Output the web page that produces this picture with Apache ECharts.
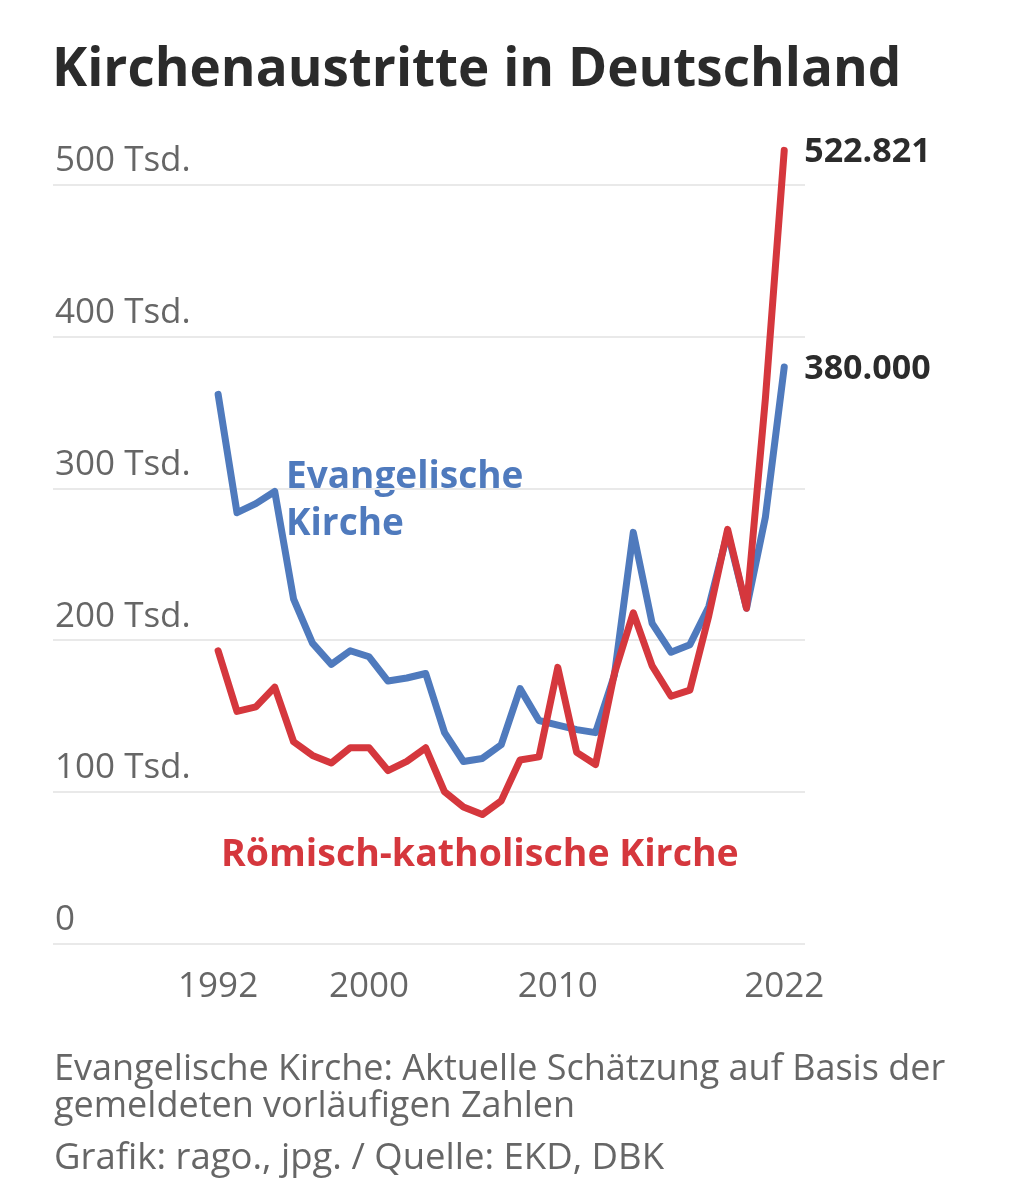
<!DOCTYPE html>
<html>
<head>
<meta charset="utf-8">
<script src="https://cdn.jsdelivr.net/npm/echarts@6/dist/echarts.min.js"></script>
<style>
html,body{margin:0;padding:0;background:#fff;}
#c{width:1017px;height:1200px;}
</style>
</head>
<body>
<div id="c"></div>
<script>
// ---- data ----
const years = [1992,1993,1994,1995,1996,1997,1998,1999,2000,2001,2002,2003,2004,2005,2006,2007,2008,2009,2010,2011,2012,2013,2014,2015,2016,2017,2018,2019,2020,2021,2022];
const evangelisch = [362000,284000,290000,298000,227000,198000,184000,193000,189000,173000,175000,178000,139000,120000,122000,131000,168000,147000,144000,141000,139000,177000,271000,211000,192000,197000,222000,271000,221000,281000,380000];
const katholisch = [193000,153000,156000,169000,133000,124000,119000,129000,129000,114000,120000,129000,100000,90000,85000,94000,121000,123000,182000,126000,118000,178000,218000,183000,163000,167000,216000,273000,221000,359000,522821];
const xTickYears = [1992,2000,2010,2022];
const titleText = 'Kirchenaustritte in Deutschland';
const evName = ['Evangelische','Kirche'];
const rkName = 'Römisch-katholische Kirche';
const footNote = ['Evangelische Kirche: Aktuelle Schätzung auf Basis der','gemeldeten vorläufigen Zahlen'];
const sourceText = 'Grafik: rago., jpg. / Quelle: EKD, DBK';

const BLUE = '#4f7abd';
const RED = '#d5373d';
const FONT = '"Open Sans", "Noto Sans", sans-serif';

function deFmt(v){
  return String(Math.round(v)).replace(/\B(?=(\d{3})+(?!\d))/g, '.');
}
function pairs(vals){ return years.map((y,i)=>[y, vals[i]]); }

const chart = echarts.init(document.getElementById('c'), null, {renderer:'canvas'});
chart.setOption({
  backgroundColor:'#fff',
  animation:false,
  grid:{left:53, right:212, top:185, bottom:256.5, containLabel:false},
  xAxis:{
    type:'value', min:1983.25, max:2023.1,
    splitLine:{show:false}, axisLine:{show:false}, axisTick:{show:false},
    axisLabel:{
      customValues: xTickYears,
      formatter: v => String(v),
      color:'#666', fontSize:35, fontFamily:FONT, margin:26
    }
  },
  yAxis:{
    type:'value', min:0, max:500000, interval:100000,
    axisLine:{show:false}, axisTick:{show:false},
    splitLine:{show:true, lineStyle:{color:'#e9e9e9', width:2}},
    axisLabel:{
      inside:true, margin:2, verticalAlign:'bottom', padding:[0,0,6,0],
      color:'#666', fontSize:35, fontFamily:FONT,
      formatter: v => v === 0 ? '0' : (v/1000) + ' Tsd.'
    }
  },
  series:[
    {
      type:'line', name:'Evangelische Kirche', data:pairs(evangelisch),
      symbol:'none', clip:false, z:3,
      lineStyle:{color:BLUE, width:7, cap:'round', join:'round'},
      endLabel:{show:true, distance:20, offset:[0,2], formatter:p=>deFmt(p.value[1]),
        color:'#2b2b2b', fontSize:34, fontWeight:'bold', fontFamily:FONT}
    },
    {
      type:'line', name:'Römisch-katholische Kirche', data:pairs(katholisch),
      symbol:'none', clip:false, z:4,
      lineStyle:{color:RED, width:7, cap:'round', join:'round'},
      endLabel:{show:true, distance:20, offset:[0,2], formatter:p=>deFmt(p.value[1]),
        color:'#2b2b2b', fontSize:34, fontWeight:'bold', fontFamily:FONT}
    }
  ],
  graphic:[
    {type:'text', left:52, top:44, style:{text:titleText, fill:'#2b2b2b', font:'bold 53px '+FONT}},
    {type:'text', left:286, top:454, style:{text:evName.join('\n'), fill:BLUE, font:'bold 37px '+FONT, lineHeight:47}},
    {type:'text', left:221, top:836, style:{text:rkName, fill:RED, font:'bold 37.5px '+FONT}},
    {type:'text', left:54, top:1051, style:{text:footNote.join('\n'), fill:'#666', font:'36px '+FONT, lineHeight:37}},
    {type:'text', left:54, top:1140, style:{text:sourceText, fill:'#666', font:'36.5px '+FONT}}
  ]
});
</script>
</body>
</html>
